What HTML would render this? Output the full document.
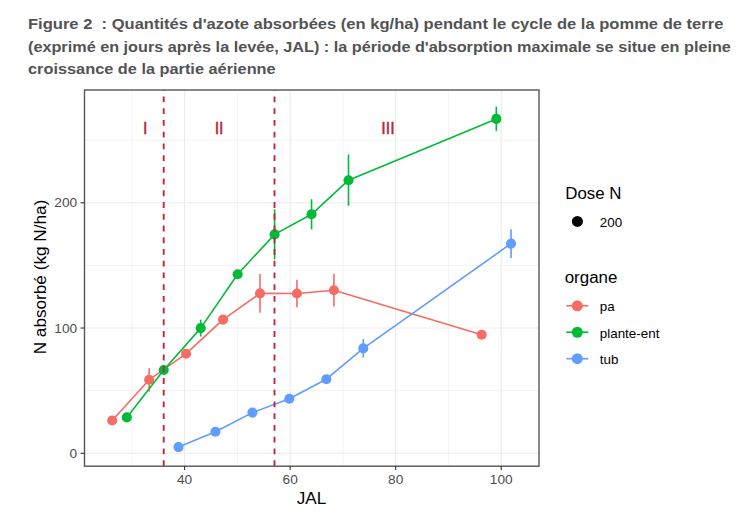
<!DOCTYPE html>
<html><head><meta charset="utf-8"><style>
html,body{margin:0;padding:0;background:#fff;width:747px;height:521px;overflow:hidden;position:relative}
.t{position:absolute;left:28px;font-family:"Liberation Sans",sans-serif;font-weight:bold;font-size:15px;color:#535353;white-space:nowrap;line-height:1}
</style></head><body>
<div class="t" id="l1" style="top:16.4px;transform:scaleX(1.103);transform-origin:0 0">Figure 2&nbsp; : Quantités d'azote absorbées (en kg/ha) pendant le cycle de la pomme de terre</div>
<div class="t" id="l2" style="top:38.8px;transform:scaleX(1.082);transform-origin:0 0">(exprimé en jours après la levée, JAL) : la période d'absorption maximale se situe en pleine</div>
<div class="t" id="l3" style="top:61.0px;transform:scaleX(1.088);transform-origin:0 0">croissance de la partie aérienne</div>
<svg width="747" height="521" viewBox="0 0 747 521" style="position:absolute;left:0;top:0">
<style>
text { font-family: "Liberation Sans", sans-serif; }
.tk { font-size: 12.8px; fill: #4D4D4D; }
.ann { font-size: 16px; fill: #B82A3C; stroke: #B82A3C; stroke-width: 0.5px; }
.lt { font-size: 16px; fill: #000; }
.lx { font-size: 12.8px; fill: #000; }
.ax { font-size: 16px; fill: #000; }
</style>
<line x1="131.82" y1="90" x2="131.82" y2="466" stroke="#EBEBEB" stroke-width="0.6"/><line x1="237.38" y1="90" x2="237.38" y2="466" stroke="#EBEBEB" stroke-width="0.6"/><line x1="342.92" y1="90" x2="342.92" y2="466" stroke="#EBEBEB" stroke-width="0.6"/><line x1="448.48" y1="90" x2="448.48" y2="466" stroke="#EBEBEB" stroke-width="0.6"/><line x1="84.5" y1="390.68" x2="539" y2="390.68" stroke="#EBEBEB" stroke-width="0.6"/><line x1="84.5" y1="265.43" x2="539" y2="265.43" stroke="#EBEBEB" stroke-width="0.6"/><line x1="84.5" y1="140.18" x2="539" y2="140.18" stroke="#EBEBEB" stroke-width="0.6"/><line x1="184.60" y1="90" x2="184.60" y2="466" stroke="#EBEBEB" stroke-width="1.1"/><line x1="290.15" y1="90" x2="290.15" y2="466" stroke="#EBEBEB" stroke-width="1.1"/><line x1="395.70" y1="90" x2="395.70" y2="466" stroke="#EBEBEB" stroke-width="1.1"/><line x1="501.25" y1="90" x2="501.25" y2="466" stroke="#EBEBEB" stroke-width="1.1"/><line x1="84.5" y1="453.30" x2="539" y2="453.30" stroke="#EBEBEB" stroke-width="1.1"/><line x1="84.5" y1="328.05" x2="539" y2="328.05" stroke="#EBEBEB" stroke-width="1.1"/><line x1="84.5" y1="202.80" x2="539" y2="202.80" stroke="#EBEBEB" stroke-width="1.1"/>
<line x1="149.15" y1="368.20" x2="149.15" y2="391.40" stroke="#F66C64" stroke-width="1.6"/>
<line x1="260.00" y1="274.00" x2="260.00" y2="312.80" stroke="#F66C64" stroke-width="1.6"/>
<line x1="296.95" y1="279.70" x2="296.95" y2="307.30" stroke="#F66C64" stroke-width="1.6"/>
<line x1="333.90" y1="273.80" x2="333.90" y2="306.60" stroke="#F66C64" stroke-width="1.6"/>
<polyline fill="none" stroke="#F66C64" stroke-width="1.6" stroke-linejoin="round" points="112.20,420.50 149.15,379.80 186.10,353.70 223.05,319.60 260.00,293.40 296.95,293.50 333.90,290.20 481.70,334.80"/>
<circle cx="112.20" cy="420.50" r="5.05" fill="#F66C64"/>
<circle cx="149.15" cy="379.80" r="5.05" fill="#F66C64"/>
<circle cx="186.10" cy="353.70" r="5.05" fill="#F66C64"/>
<circle cx="223.05" cy="319.60" r="5.05" fill="#F66C64"/>
<circle cx="260.00" cy="293.40" r="5.05" fill="#F66C64"/>
<circle cx="296.95" cy="293.50" r="5.05" fill="#F66C64"/>
<circle cx="333.90" cy="290.20" r="5.05" fill="#F66C64"/>
<circle cx="481.70" cy="334.80" r="5.05" fill="#F66C64"/>
<line x1="200.70" y1="319.70" x2="200.70" y2="336.50" stroke="#00BA38" stroke-width="1.6"/>
<line x1="274.60" y1="209.40" x2="274.60" y2="259.40" stroke="#00BA38" stroke-width="1.6"/>
<line x1="311.55" y1="199.20" x2="311.55" y2="229.40" stroke="#00BA38" stroke-width="1.6"/>
<line x1="348.50" y1="154.60" x2="348.50" y2="205.80" stroke="#00BA38" stroke-width="1.6"/>
<line x1="496.30" y1="106.70" x2="496.30" y2="131.10" stroke="#00BA38" stroke-width="1.6"/>
<polyline fill="none" stroke="#00BA38" stroke-width="1.6" stroke-linejoin="round" points="126.80,417.40 163.75,370.00 200.70,328.10 237.65,274.20 274.60,234.40 311.55,214.30 348.50,180.20 496.30,118.90"/>
<circle cx="126.80" cy="417.40" r="5.05" fill="#00BA38"/>
<circle cx="163.75" cy="370.00" r="5.05" fill="#00BA38"/>
<circle cx="200.70" cy="328.10" r="5.05" fill="#00BA38"/>
<circle cx="237.65" cy="274.20" r="5.05" fill="#00BA38"/>
<circle cx="274.60" cy="234.40" r="5.05" fill="#00BA38"/>
<circle cx="311.55" cy="214.30" r="5.05" fill="#00BA38"/>
<circle cx="348.50" cy="180.20" r="5.05" fill="#00BA38"/>
<circle cx="496.30" cy="118.90" r="5.05" fill="#00BA38"/>
<line x1="363.25" y1="339.20" x2="363.25" y2="357.60" stroke="#619CFF" stroke-width="1.6"/>
<line x1="511.05" y1="229.20" x2="511.05" y2="258.00" stroke="#619CFF" stroke-width="1.6"/>
<polyline fill="none" stroke="#619CFF" stroke-width="1.6" stroke-linejoin="round" points="178.50,447.10 215.45,431.70 252.40,412.60 289.35,398.80 326.30,379.20 363.25,348.40 511.05,243.60"/>
<circle cx="178.50" cy="447.10" r="5.05" fill="#619CFF"/>
<circle cx="215.45" cy="431.70" r="5.05" fill="#619CFF"/>
<circle cx="252.40" cy="412.60" r="5.05" fill="#619CFF"/>
<circle cx="289.35" cy="398.80" r="5.05" fill="#619CFF"/>
<circle cx="326.30" cy="379.20" r="5.05" fill="#619CFF"/>
<circle cx="363.25" cy="348.40" r="5.05" fill="#619CFF"/>
<circle cx="511.05" cy="243.60" r="5.05" fill="#619CFF"/>
<line x1="163.7" y1="466" x2="163.7" y2="90" stroke="#B82A3C" stroke-width="1.9" stroke-dasharray="5.87 5.86"/><line x1="274.5" y1="466" x2="274.5" y2="90" stroke="#B82A3C" stroke-width="1.9" stroke-dasharray="5.87 5.86"/>
<text x="145.2" y="134.3" text-anchor="middle" class="ann">I</text><text x="219.1" y="134.3" text-anchor="middle" class="ann">II</text><text x="388" y="134.3" text-anchor="middle" class="ann">III</text>
<rect x="84.5" y="90" width="454.5" height="376.2" fill="none" stroke="#555" stroke-width="1.4"/>
<line x1="184.60" y1="466" x2="184.60" y2="470" stroke="#333" stroke-width="1.1"/><text transform="translate(184.60,484.3) scale(1.07,1)" text-anchor="middle" class="tk">40</text><line x1="290.15" y1="466" x2="290.15" y2="470" stroke="#333" stroke-width="1.1"/><text transform="translate(290.15,484.3) scale(1.07,1)" text-anchor="middle" class="tk">60</text><line x1="395.70" y1="466" x2="395.70" y2="470" stroke="#333" stroke-width="1.1"/><text transform="translate(395.70,484.3) scale(1.07,1)" text-anchor="middle" class="tk">80</text><line x1="501.25" y1="466" x2="501.25" y2="470" stroke="#333" stroke-width="1.1"/><text transform="translate(501.25,484.3) scale(1.07,1)" text-anchor="middle" class="tk">100</text><line x1="80.5" y1="453.30" x2="84.5" y2="453.30" stroke="#333" stroke-width="1.1"/><text transform="translate(77.2,457.90) scale(1.07,1)" text-anchor="end" class="tk">0</text><line x1="80.5" y1="328.05" x2="84.5" y2="328.05" stroke="#333" stroke-width="1.1"/><text transform="translate(77.2,332.65) scale(1.07,1)" text-anchor="end" class="tk">100</text><line x1="80.5" y1="202.80" x2="84.5" y2="202.80" stroke="#333" stroke-width="1.1"/><text transform="translate(77.2,207.40) scale(1.07,1)" text-anchor="end" class="tk">200</text>
<text transform="translate(311.5,504) scale(1.07,1)" text-anchor="middle" class="ax">JAL</text>
<text transform="translate(46.3,277) rotate(-90) scale(1.074,1)" text-anchor="middle" class="ax">N absorbé (kg N/ha)</text>

<text transform="translate(565.3,198.5) scale(1.055,1)" text-anchor="start" class="lt">Dose N</text>
<circle cx="577.4" cy="221.4" r="5.5" fill="#000"/>
<text transform="translate(599.8,226.6) scale(1.047,1)" text-anchor="start" class="lx">200</text>
<text transform="translate(564.7,283.4) scale(1.058,1)" text-anchor="start" class="lt">organe</text>
<line x1="566.3" y1="305.80" x2="588.3" y2="305.80" stroke="#F66C64" stroke-width="1.6"/><circle cx="577.3" cy="305.80" r="5.5" fill="#F66C64"/><text transform="translate(599.8,311.40) scale(1.047,1)" text-anchor="start" class="lx">pa</text><line x1="566.3" y1="332.25" x2="588.3" y2="332.25" stroke="#00BA38" stroke-width="1.6"/><circle cx="577.3" cy="332.25" r="5.5" fill="#00BA38"/><text transform="translate(599.8,337.85) scale(1.047,1)" text-anchor="start" class="lx">plante-ent</text><line x1="566.3" y1="358.70" x2="588.3" y2="358.70" stroke="#619CFF" stroke-width="1.6"/><circle cx="577.3" cy="358.70" r="5.5" fill="#619CFF"/><text transform="translate(599.8,364.30) scale(1.047,1)" text-anchor="start" class="lx">tub</text>
</svg>
</body></html>
